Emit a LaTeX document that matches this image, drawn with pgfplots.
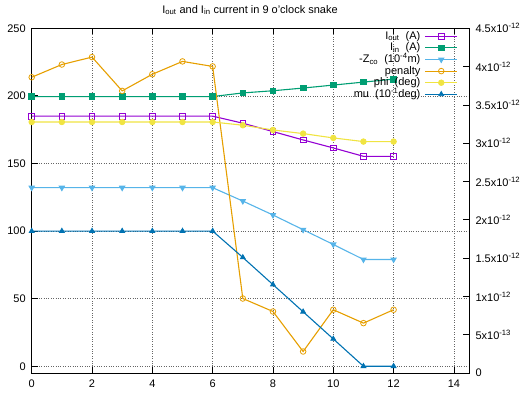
\documentclass[border=0pt]{standalone}
\usepackage{fontspec}
\setmainfont{Liberation Sans}
\usepackage{pgfplots}
\pgfplotsset{compat=1.18}
\definecolor{cpurple}{HTML}{9400D3}
\definecolor{cgreen}{HTML}{009E73}
\definecolor{cblue}{HTML}{56B4E9}
\definecolor{corange}{HTML}{E69F00}
\definecolor{cyellow}{HTML}{F0E442}
\definecolor{cdblue}{HTML}{0072B2}
\begin{document}
\begin{tikzpicture}[font=\fontsize{11}{13}\selectfont]
\useasboundingbox (0,0) rectangle (524pt,394pt);
\begin{axis}[
  at={(31.7pt,21pt)}, anchor=south west,
  scale only axis, width=437.3pt, height=344.7pt,
  xmin=0, xmax=14.5, ymin=-5, ymax=250,
  xtick={0,2,...,14}, ytick={0,50,...,250},
  ytick pos=left, xtick pos=both,
  tick align=inside, major tick length=6pt,
  /pgf/number format/assume math mode=true,
  yticklabel style={xshift=-2.5pt},
  xticklabel style={yshift=-3pt},
  grid=major, grid style={dotted, black!60, line width=0.6pt},
  axis line style={black, line width=0.8pt},
  every tick/.style={black, line width=0.8pt},
  legend image code/.code={\draw[mark repeat=2,mark phase=2,#1] plot coordinates {(0pt,0pt) (16pt,0pt) (32pt,0pt)};},
  legend style={at={(1,1)}, anchor=north east, xshift=-11pt, yshift=-2pt,
    draw=none, fill=none, row sep=0pt, inner sep=0pt,
    nodes={inner sep=0.3pt, text height=8.5pt, text depth=2.5pt},
    /tikz/every odd column/.append style={column sep=4pt}},
  legend plot pos=right, legend cell align=right,
  every axis plot/.append style={line width=1.1pt, mark size=2.8pt, mark options={solid, line width=0.8pt}},
]
\addplot[cpurple, mark=square] coordinates {(0,185) (1,185) (2,185) (3,185) (4,185) (5,185) (6,185) (7,179.8) (8,173.6) (9,167.4) (10,161.5) (11,155.3) (12,155.3)};
\addlegendentry{I\textsubscript{out}~~(A)}
\addplot[cgreen, mark=square*] coordinates {(0,199.5) (1,199.5) (2,199.5) (3,199.5) (4,199.5) (5,199.5) (6,199.5) (7,202.2) (8,203.8) (9,205.8) (10,208) (11,210.2) (12,212.4)};
\addlegendentry{I\textsubscript{in}~~(A)}
\addplot[cblue, mark=triangle*, mark options={rotate=180}] coordinates {(0,132.1) (1,132.1) (2,132.1) (3,132.1) (4,132.1) (5,132.1) (6,132.1) (7,122.2) (8,111.9) (9,101) (10,90.1) (11,79) (12,79)};
\addlegendentry{-Z\textsubscript{co}~~(10\textsuperscript{-4}m)}
\addplot[corange, mark=o] coordinates {(0,213.8) (1,223.2) (2,228.7) (3,203.7) (4,216) (5,225.5) (6,221.8) (7,50.1) (8,40.5) (9,10.9) (10,41.8) (11,31.9) (12,41.8)};
\addlegendentry{penalty}
\addplot[cyellow, mark=*] coordinates {(0,180.7) (1,180.7) (2,180.7) (3,180.7) (4,180.7) (5,180.7) (6,180.7) (7,178.3) (8,174.8) (9,172.1) (10,168.9) (11,166.2) (12,166.2)};
\addlegendentry{phi~~(deg)}
\addplot[cdblue, mark=triangle*] coordinates {(0,100) (1,100) (2,100) (3,100) (4,100) (5,100) (6,100) (7,80.5) (8,60.4) (9,40.3) (10,20.2) (11,0) (12,0)};
\addlegendentry{mu~~(10\textsuperscript{-1}deg)}
\end{axis}
\begin{axis}[
  at={(31.7pt,21pt)}, anchor=south west,
  scale only axis, width=437.3pt, height=344.7pt,
  xmin=0, xmax=14.5, ymin=0, ymax=4.5,
  hide x axis, axis y line*=right, ytick pos=right,
  tick align=inside, major tick length=6pt,
  axis line style={black, line width=0.8pt},
  every tick/.style={black, line width=0.8pt},
  ytick={0,0.5,...,4.5},
  yticklabels={0, 5x10\textsuperscript{-13}, 1x10\textsuperscript{-12}, 1.5x10\textsuperscript{-12}, 2x10\textsuperscript{-12}, 2.5x10\textsuperscript{-12}, 3x10\textsuperscript{-12}, 3.5x10\textsuperscript{-12}, 4x10\textsuperscript{-12}, 4.5x10\textsuperscript{-12}},
  yticklabel style={anchor=west, xshift=3pt},
]
\end{axis}
\node at (250pt,384pt) {I\textsubscript{out} and I\textsubscript{in} current in 9 o'clock snake};
\end{tikzpicture}
\end{document}
